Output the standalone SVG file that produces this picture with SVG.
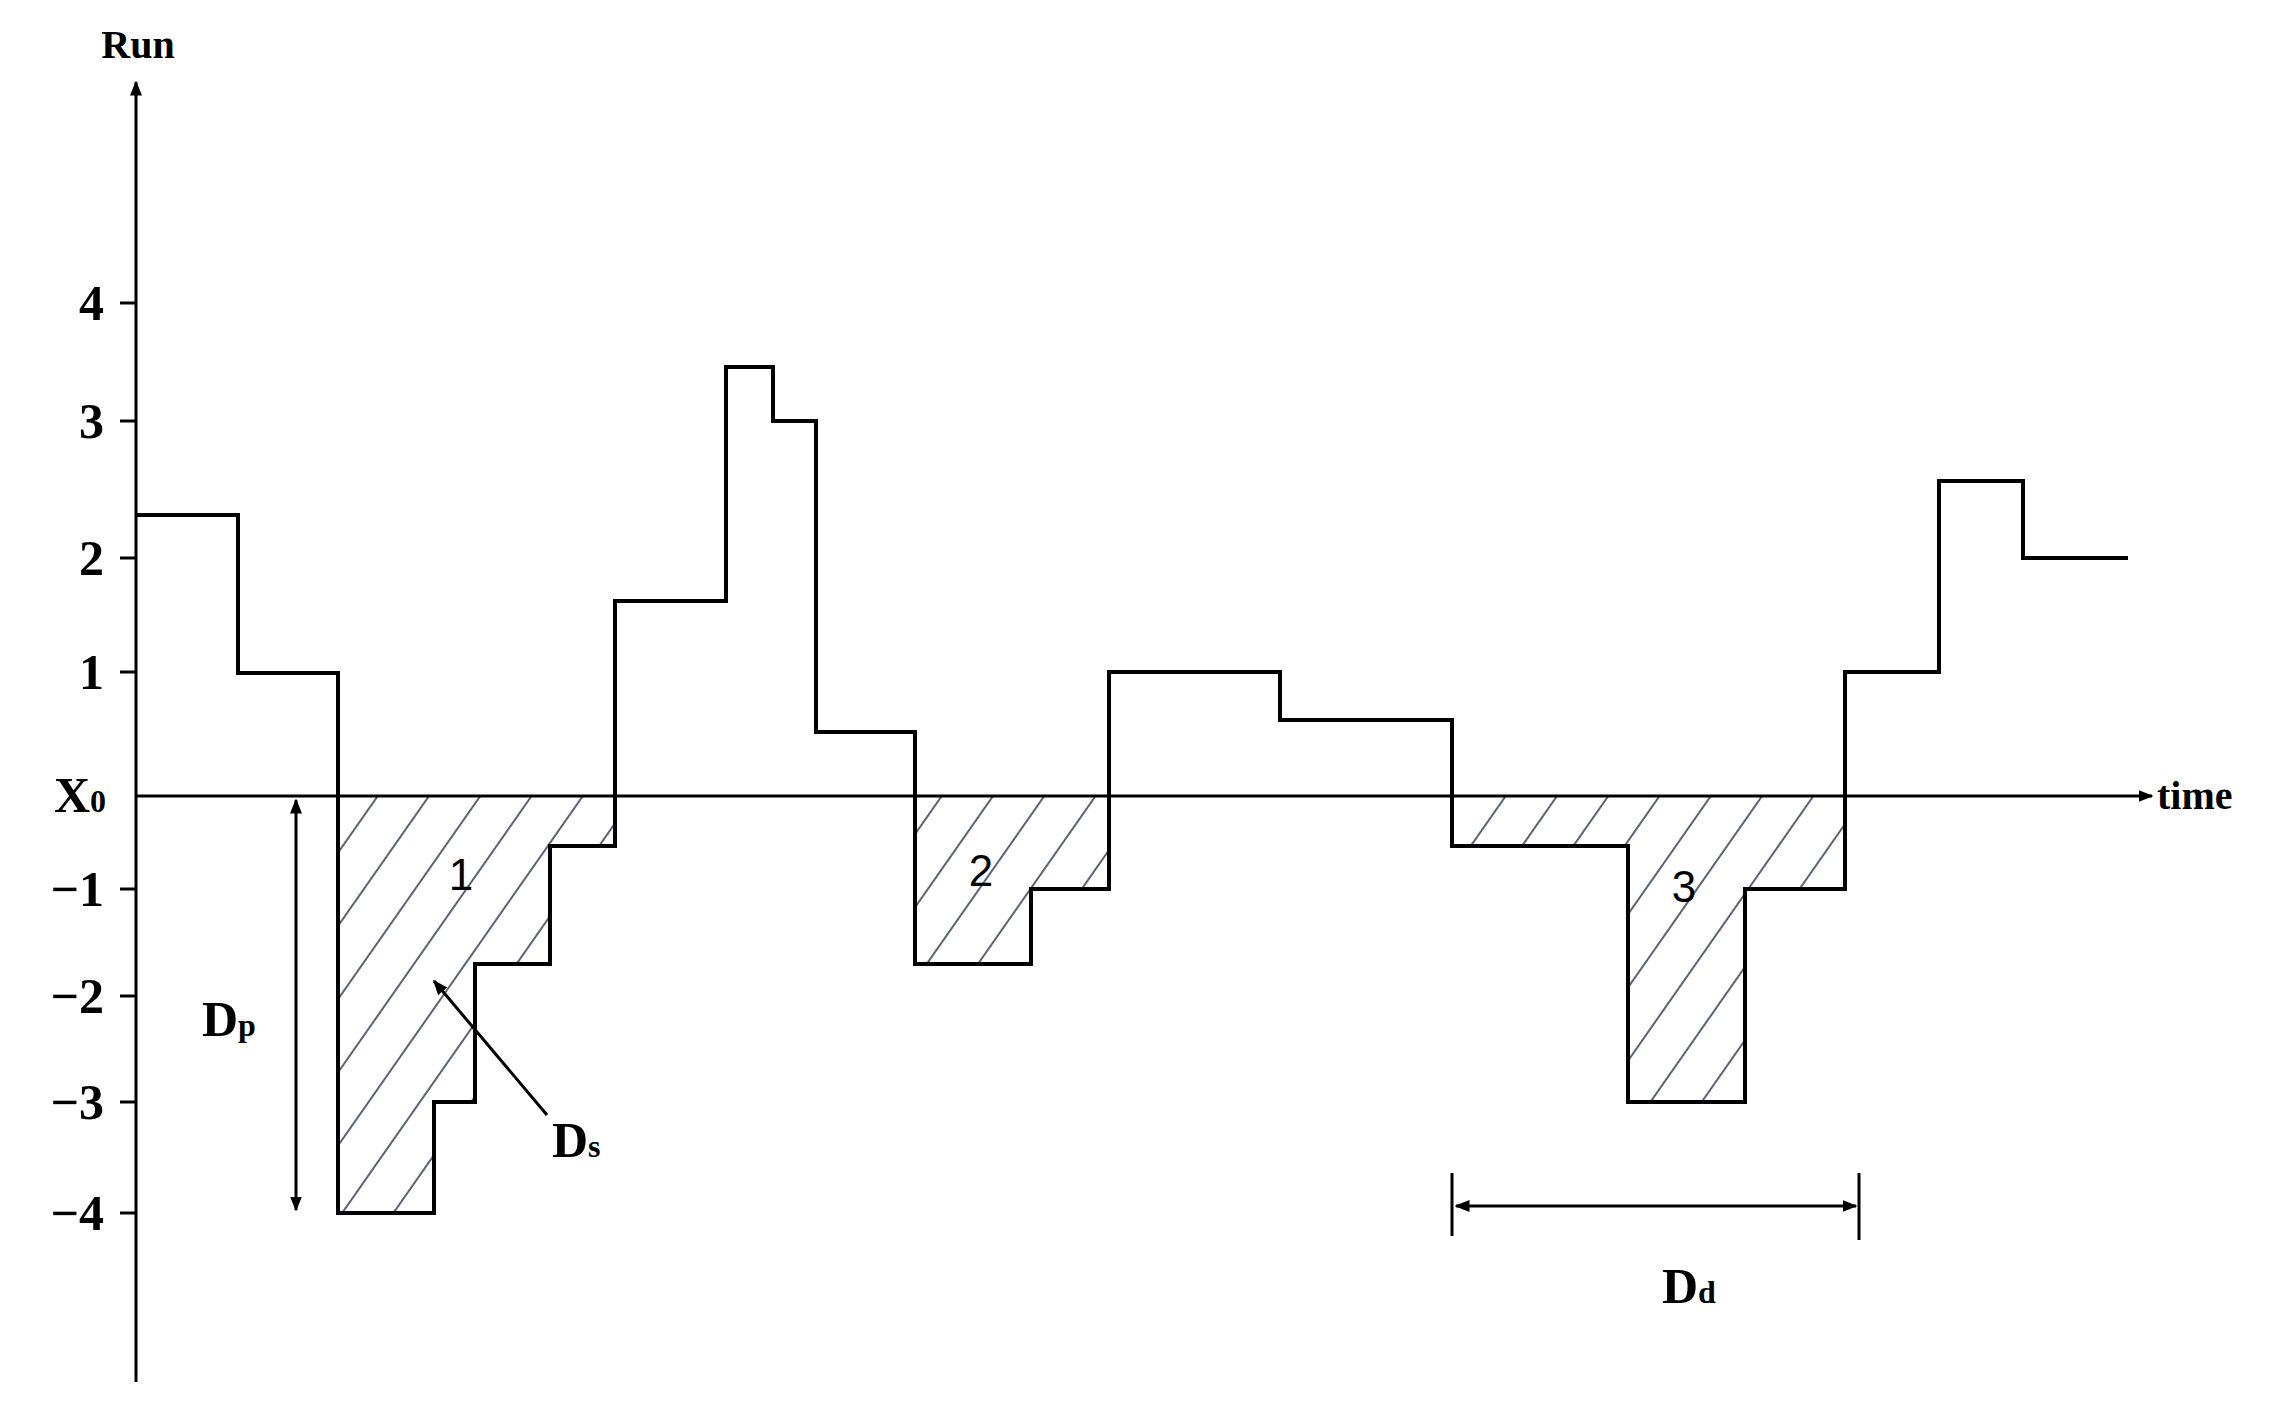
<svg xmlns="http://www.w3.org/2000/svg" width="2274" height="1404" viewBox="0 0 2274 1404">
<style>
.ax{stroke:#000;stroke-width:3;fill:none}
.cv{stroke:#000;stroke-width:4;fill:none}
.tl{font-family:"Liberation Serif",serif;font-weight:bold;font-size:50px;fill:#000}
.lb{font-family:"Liberation Sans",sans-serif;font-size:44px;fill:#000}
.sub{font-size:32px}
</style>
<defs>
<pattern id="h" width="42" height="42" patternUnits="userSpaceOnUse" patternTransform="rotate(35)">
<line x1="10" y1="0" x2="10" y2="42" stroke="#5a6473" stroke-width="2"/>
</pattern>
<marker id="a" viewBox="0 0 10 10" refX="9" refY="5" markerWidth="5" markerHeight="5" orient="auto-start-reverse"><path d="M0,1 L10,5 L0,9 z" fill="#000"/></marker>
</defs>
<rect width="2274" height="1404" fill="#fff"/>
<g id="hatch">
<polygon fill="url(#h)" points="338,796 338,1213 434,1213 434,1102 475,1102 475,964 550,964 550,846 615,846 615,796"/>
<polygon fill="url(#h)" points="915,796 915,964 1031,964 1031,889 1109,889 1109,796"/>
<polygon fill="url(#h)" points="1452,796 1452,846 1628,846 1628,1102 1745,1102 1745,889 1845,889 1845,796"/>
</g>
<g id="axes">
<line class="ax" x1="136" y1="1382" x2="136" y2="82" marker-end="url(#a)"/>
<line class="ax" x1="136" y1="796" x2="2152" y2="796" marker-end="url(#a)"/>
<g class="ax"><line x1="120" y1="303" x2="136" y2="303"/><line x1="120" y1="421" x2="136" y2="421"/><line x1="120" y1="558" x2="136" y2="558"/><line x1="120" y1="672" x2="136" y2="672"/><line x1="120" y1="889" x2="136" y2="889"/><line x1="120" y1="996" x2="136" y2="996"/><line x1="120" y1="1102" x2="136" y2="1102"/><line x1="120" y1="1213" x2="136" y2="1213"/></g>
<g class="tl" text-anchor="end">
<text x="104" y="320">4</text><text x="104" y="438">3</text><text x="104" y="575">2</text><text x="104" y="689">1</text>
<text x="104" y="906">−1</text><text x="104" y="1013">−2</text><text x="104" y="1119">−3</text><text x="104" y="1230">−4</text>
</g>
<text class="tl" x="54" y="812">X<tspan class="sub">0</tspan></text>
<text class="tl" x="138" y="58" text-anchor="middle" style="font-size:40px">Run</text>
<text class="tl" x="2157" y="809" style="font-size:40px">time</text>
</g>
<g id="curve">
<path class="cv" d="M136,515 H238 V673 H338 V1213 H434 V1102 H475 V964 H550 V846 H615 V601 H726 V367 H773 V421 H816 V732 H915 V964 H1031 V889 H1109 V672 H1280 V720 H1452 V846 H1628 V1102 H1745 V889 H1845 V672 H1939 V481 H2023 V558 H2128"/>
</g>
<g id="labels">
<text class="lb" x="461" y="890" text-anchor="middle">1</text>
<text class="lb" x="981" y="886" text-anchor="middle">2</text>
<text class="lb" x="1684" y="902" text-anchor="middle">3</text>
</g>
<g id="connectors">
<line class="ax" x1="296" y1="800" x2="296" y2="1210" marker-start="url(#a)" marker-end="url(#a)"/>
<line class="ax" x1="547" y1="1115" x2="434" y2="981" marker-end="url(#a)"/>
<line class="ax" x1="1456" y1="1206" x2="1856" y2="1206" marker-start="url(#a)" marker-end="url(#a)"/>
<line class="ax" x1="1452" y1="1173" x2="1452" y2="1236"/>
<line class="ax" x1="1859" y1="1173" x2="1859" y2="1240"/>
</g>
<g id="dims">
<text class="tl" x="202" y="1036">D<tspan class="sub">p</tspan></text>
<text class="tl" x="552" y="1157">D<tspan class="sub">s</tspan></text>
<text class="tl" x="1662" y="1303">D<tspan class="sub">d</tspan></text>
</g>
</svg>
